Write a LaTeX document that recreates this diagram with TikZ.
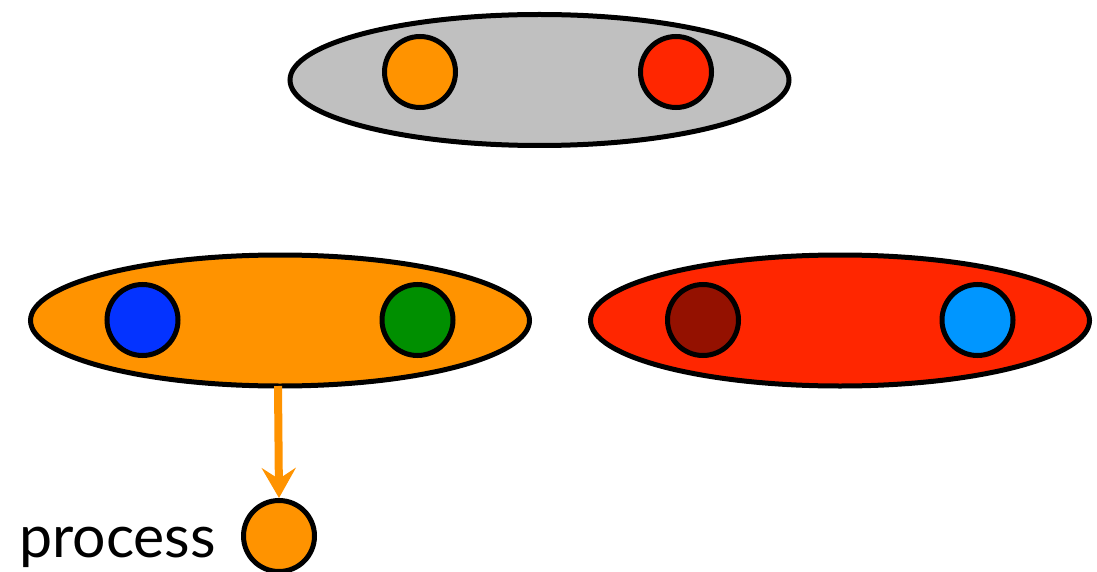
\documentclass[tikz,border=0pt]{standalone}
\usepackage{fontspec}
\setmainfont{Lato}
\usetikzlibrary{shapes.geometric,arrows.meta}
\definecolor{cgray}{HTML}{C0C0C0}
\definecolor{corange}{HTML}{FF9300}
\definecolor{cred}{HTML}{FF2600}
\definecolor{cblue}{HTML}{0433FF}
\definecolor{cgreen}{HTML}{008F00}
\definecolor{cdarkred}{HTML}{941100}
\definecolor{clightblue}{HTML}{0096FF}
\tikzset{
  group/.style={ellipse, draw=black, line width=5pt, minimum width=499pt, minimum height=131pt, inner sep=0pt},
  proc/.style={circle, draw=black, line width=5pt, minimum size=71pt, inner sep=0pt},
  flow/.style={draw=corange, line width=8pt, -{Stealth[length=30pt, width=34pt, inset=11pt]}},
  lbl/.style={font=\fontsize{59}{62}\selectfont, anchor=base west, inner sep=0pt}
}
\begin{document}
\begin{tikzpicture}[x=1pt, y=-1pt]
\useasboundingbox (0,0) rectangle (1097,572);
\node[group, fill=cgray] (top) at (539.5,80) {};
\node[proc, fill=corange] (t1) at (420,72) {};
\node[proc, fill=cred] (t2) at (676,72) {};
\node[group, fill=corange] (left) at (280,320.5) {};
\node[proc, fill=cblue] (l1) at (142.5,320) {};
\node[proc, fill=cgreen] (l2) at (417.5,320) {};
\node[group, fill=cred] (right) at (840,320.5) {};
\node[proc, fill=cdarkred] (r1) at (703,320) {};
\node[proc, fill=clightblue] (r2) at (977.5,320) {};
\node[proc, fill=corange] (p) at (279,536) {};
\node[lbl] (plbl) at (19,557) {process};
\coordinate (start) at (278,386);
\draw[flow] (start) -- (p.north);
\end{tikzpicture}
\end{document}
